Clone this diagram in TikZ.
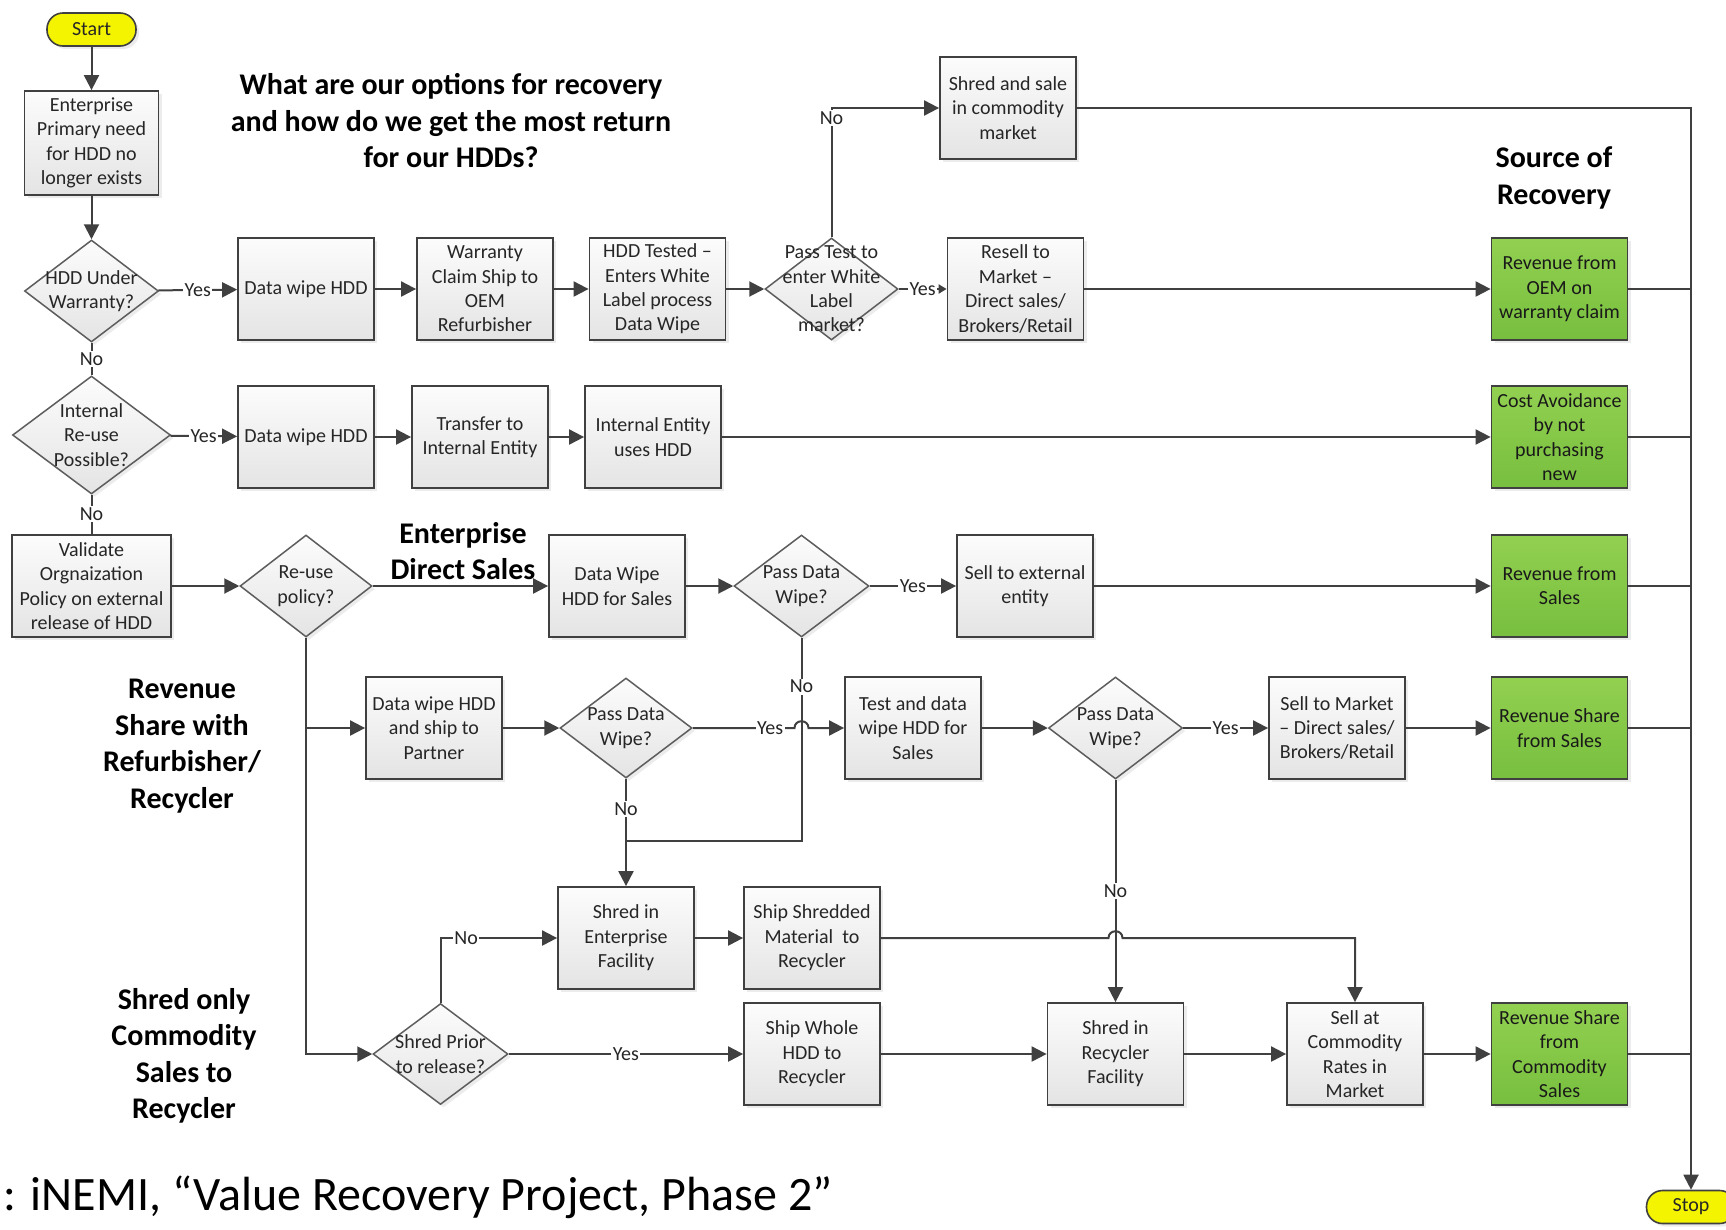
\documentclass[tikz,border=0pt]{standalone}
\usepackage{fontspec}
\setmainfont{Carlito}
\usetikzlibrary{arrows.meta,shapes.geometric,shadows}

\definecolor{edge}{HTML}{404040}
\definecolor{ink}{HTML}{262626}
\definecolor{boxtop}{HTML}{FCFCFC}
\definecolor{boxbot}{HTML}{E4E4E4}
\definecolor{greentop}{HTML}{92D050}
\definecolor{greenbot}{HTML}{78BF3F}
\definecolor{termfill}{HTML}{F4F400}

\tikzset{
  x=1pt, y=-1pt,
  every node/.style={font=\fontsize{20}{24.4}\selectfont, text=ink},
  softshadow/.style={drop shadow={shadow xshift=3pt, shadow yshift=-3pt, fill=black!14}},
  proc/.style={rectangle, draw=edge, line width=1.8pt, top color=boxtop, bottom color=boxbot,
    minimum width=136pt, minimum height=102pt, inner sep=0pt, align=center, softshadow},
  gain/.style={proc, top color=greentop, bottom color=greenbot, text=black!90},
  dec/.style={diamond, draw=edge!85, line width=1.5pt, top color=boxtop, bottom color=boxbot,
    minimum width=134pt, minimum height=102pt, inner sep=0pt, softshadow},
  dtxt/.style={align=center, inner sep=0pt},
  term/.style={rectangle, rounded corners=16pt, draw=edge, line width=1.6pt, fill=termfill,
    minimum width=89pt, minimum height=33pt, inner sep=0pt, softshadow},
  conn/.style={draw=edge, line width=2pt},
  arr/.style={-{Triangle[length=15pt,width=15pt]}},
  smallarr/.style={-{Triangle[length=8pt,width=9pt]}},
  lbl/.style={fill=white, inner sep=1.5pt},
  head/.style={font=\fontsize{30}{36.5}\selectfont\bfseries, align=center, text=black},
}

\begin{document}
\begin{tikzpicture}
\path[fill=white, use as bounding box] (0,0) rectangle (1726,1229);

% headings
\node[head] (qtitle) at (451,121) {What are our options for recovery\\and how do we get the most return\\for our HDDs?};
\node[head] (srchead) at (1554,178) {Source of\\Recovery};
\node[head] (edshead) at (463,551) {Enterprise\\Direct Sales};
\node[head] (rshead) at (182,746) {Revenue\\Share with\\Refurbisher/\\Recycler};
\node[head] (sohead) at (184,1056) {Shred only\\Commodity\\Sales to\\Recycler};
\node[anchor=base west, font=\fontsize{48}{56}\selectfont, text=black] (cite) at (0,1210)
  {: iNEMI, “Value Recovery Project, Phase 2”};

% start
\node[term] (start) at (91.5,29.5) {Start};
\node[proc, minimum width=134pt, minimum height=104pt] (ent) at (91.5,143) {Enterprise\\Primary need\\for HDD no\\longer exists};
\node[dec, label={[dtxt]center:{HDD Under\\Warranty?}}] (d1) at (91.5,291) {};

% row: warranty
\node[proc] (dw1) at (306,289) {Data wipe HDD};
\node[proc] (wc) at (485,289) {Warranty\\Claim Ship to\\OEM\\Refurbisher};
\node[proc] (tested) at (657.5,289) {HDD Tested –\\Enters White\\Label process\\Data Wipe};
\node[dec, minimum width=133pt, label={[dtxt]center:{Pass Test to\\enter White\\Label\\market?}}] (d4) at (831.5,289) {};
\node[proc] (resell) at (1015.5,289) {Resell to\\Market –\\Direct sales/\\Brokers/Retail};
\node[proc] (shredsale) at (1008,108) {Shred and sale\\in commodity\\market};
\node[gain] (g1) at (1559.5,289) {Revenue from\\OEM on\\warranty claim};

% row: internal re-use
\node[dec, minimum width=158pt, minimum height=118pt, label={[dtxt]center:{Internal\\Re-use\\Possible?}}] (d2) at (91.5,435) {};
\node[proc] (dw2) at (306,437) {Data wipe HDD};
\node[proc] (transfer) at (480,437) {Transfer to\\Internal Entity};
\node[proc] (intuse) at (653,437) {Internal Entity\\uses HDD};
\node[gain] (g2) at (1559.5,437) {Cost Avoidance\\by not\\purchasing\\new};

% row: enterprise direct sales
\node[proc, minimum width=159pt] (validate) at (91.5,586) {Validate\\Orgnaization\\Policy on external\\release of HDD};
\node[dec, minimum width=132pt, label={[dtxt]center:{Re-use\\policy?}}] (d3) at (306,586) {};
\node[proc] (dws) at (617,586) {Data Wipe\\HDD for Sales};
\node[dec, minimum width=135pt, label={[dtxt]center:{Pass Data\\Wipe?}}] (d5) at (801.5,586) {};
\node[proc] (sellext) at (1025,586) {Sell to external\\entity};
\node[gain] (g3) at (1559.5,586) {Revenue from\\Sales};

% row: revenue share
\node[proc] (dwship) at (434,728) {Data wipe HDD\\and ship to\\Partner};
\node[dec, minimum width=132pt, minimum height=100pt, label={[dtxt]center:{Pass Data\\Wipe?}}] (d6) at (626,728) {};
\node[proc] (testwipe) at (913,728) {Test and data\\wipe HDD for\\Sales};
\node[dec, label={[dtxt]center:{Pass Data\\Wipe?}}] (d7) at (1115.5,728) {};
\node[proc] (sellmkt) at (1337,728) {Sell to Market\\– Direct sales/\\Brokers/Retail};
\node[gain] (g4) at (1559.5,728) {Revenue Share\\from Sales};

% rows: shredding
\node[proc] (shredent) at (626,938) {Shred in\\Enterprise\\Facility};
\node[proc] (shipshred) at (812,938) {Ship Shredded\\Material\ \ to\\Recycler};
\node[dec, minimum width=135pt, minimum height=101pt, label={[dtxt]center:{Shred Prior\\to release?}}] (d8) at (440.5,1054) {};
\node[proc] (shipwhole) at (812,1054) {Ship Whole\\HDD to\\Recycler};
\node[proc] (shredrec) at (1115.5,1054) {Shred in\\Recycler\\Facility};
\node[proc] (sellcom) at (1355,1054) {Sell at\\Commodity\\Rates in\\Market};
\node[gain] (g5) at (1559.5,1054) {Revenue Share\\from\\Commodity\\Sales};

\node[term] (stop) at (1691,1207) {Stop};

\coordinate (join) at (626,841);

% connectors
\draw[conn,arr] (start) -- (ent);
\draw[conn,arr] (ent) -- (d1);
\draw[conn,arr] (d1) -- node[lbl]{Yes} (dw1);
\draw[conn,arr] (dw1) -- (wc);
\draw[conn,arr] (wc) -- (tested);
\draw[conn,arr] (tested) -- (d4);
\draw[conn,smallarr] (d4) -- node[lbl]{Yes} (resell);
\draw[conn,arr] (d4.north) |- node[lbl,pos=0.5,yshift=-10pt]{No} (shredsale.west);
\draw[conn,arr] (resell) -- (g1);
\draw[conn,arr] (shredsale.east) -| (stop.north);
\draw[conn] (g1.east) -- (g1.east -| stop.north);

\draw[conn] (d1.south) -- node[lbl]{No} (d2.north);
\draw[conn,arr] (d2) -- node[lbl]{Yes} (dw2);
\draw[conn,arr] (dw2) -- (transfer);
\draw[conn,arr] (transfer) -- (intuse);
\draw[conn,arr] (intuse) -- (g2);
\draw[conn] (g2.east) -- (g2.east -| stop.north);

\draw[conn] (d2.south) -- node[lbl]{No} (validate.north);
\draw[conn,arr] (validate) -- (d3);
\draw[conn,arr] (d3) -- (dws);
\draw[conn,arr] (dws) -- (d5);
\draw[conn,arr] (d5) -- node[lbl]{Yes} (sellext);
\draw[conn,arr] (sellext) -- (g3);
\draw[conn] (g3.east) -- (g3.east -| stop.north);

\draw[conn,arr] (d3.south) |- (d8.west);
\draw[conn,arr] (d3.south |- dwship.west) -- (dwship.west);
\draw[conn,arr] (dwship) -- (d6);
\draw[conn,arr] (d6.east) -- node[lbl,pos=0.76]{Yes} (794.5,728)
  .. controls (794.5,719) and (808.5,719) .. (808.5,728) -- (testwipe.west);
\draw[conn,arr] (testwipe) -- (d7);
\draw[conn,arr] (d7) -- node[lbl]{Yes} (sellmkt);
\draw[conn,arr] (sellmkt) -- (g4);
\draw[conn] (g4.east) -- (g4.east -| stop.north);

\draw[conn,arr] (d6.south) -- node[lbl,pos=0.28]{No} (shredent.north);
\draw[conn] (d5.south) |- node[lbl,pos=0.12]{No} (join);
\draw[conn,arr] (d8.north) |- node[lbl,pos=0.61]{No} (shredent.west);
\draw[conn,arr] (d8) -- node[lbl]{Yes} (shipwhole);
\draw[conn,arr] (shredent) -- (shipshred);
\draw[conn,arr] (shipshred.east) -- (1108.5,938)
  .. controls (1108.5,929) and (1122.5,929) .. (1122.5,938) -| (sellcom.north);
\draw[conn,arr] (d7.south) -- node[lbl]{No} (shredrec.north);
\draw[conn,arr] (shipwhole) -- (shredrec);
\draw[conn,arr] (shredrec) -- (sellcom);
\draw[conn,arr] (sellcom) -- (g5);
\draw[conn] (g5.east) -- (g5.east -| stop.north);
\end{tikzpicture}
\end{document}
